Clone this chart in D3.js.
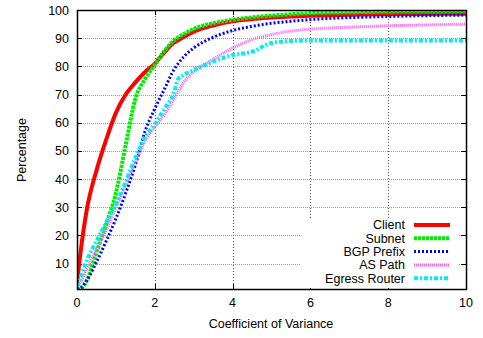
<!DOCTYPE html>
<html>
<head>
<meta charset="utf-8">
<script src="https://cdn.jsdelivr.net/npm/d3@7"></script>
<style>
  body { margin: 0; background: #fff; }
  text { font-family: "Liberation Sans", Arial, sans-serif; fill: #000; }
</style>
</head>
<body>
<svg id="chart" width="483" height="338"></svg>
<script>
// coefficient of variance (x) shared by all series
var cov = [0, 0.1, 0.25, 0.5, 0.75, 1, 1.25, 1.5, 1.75, 2, 2.25, 2.5, 2.6, 2.75, 3, 3.5, 4, 4.5, 5, 5.5, 6, 7, 8, 9, 10];

var client = [3, 15, 29, 43, 54, 63.5, 70, 74.3, 78, 81, 85, 88.5, 89.3, 90.5, 92.3, 94.5, 96, 96.8, 97.3, 97.7, 98, 98.3, 98.5, 98.6, 98.7];
var subnet = [1, 1.2, 4, 14, 24, 35, 52, 68.5, 75.5, 80.5, 85.5, 89.3, 90.3, 91.5, 93.3, 95.3, 96.5, 97.4, 98, 98.5, 98.9, 99.2, 99.4, 99.5, 99.5];
var bgpPrefix = [1, 1.5, 4, 10.5, 18, 26, 35, 45, 57, 65, 72, 79, 81, 83.5, 86.5, 90.3, 92.7, 94.2, 95.3, 96, 96.6, 97.3, 97.7, 98, 98.2];
var asPath = [1, 3.5, 8, 15, 22, 30, 38, 46, 53.5, 58.5, 63, 68.5, 71, 74.5, 78, 82.5, 86.5, 89.5, 91.3, 92.5, 93.2, 93.9, 94.4, 94.7, 95];
var egressRouter = [2, 5.5, 11, 18, 24.5, 31, 39, 47.5, 55, 59.5, 65, 71, 75.5, 77, 78.7, 81.7, 84, 85.2, 88.3, 89, 89.2, 89.2, 89.2, 89.2, 89.2];

var seriesNames = ["Client", "Subnet", "BGP Prefix", "AS Path", "Egress Router"];
var seriesValues = [client, subnet, bgpPrefix, asPath, egressRouter];

var xTicks = [0, 2, 4, 6, 8, 10];
var yTicks = [10, 20, 30, 40, 50, 60, 70, 80, 90, 100];

// line looks, gnuplot-ish
var styles = [
  {color: "#ff0000", width: 4, dash: null},
  {color: "#00ee00", width: 4, dash: "3,1"},
  {color: "#0000ff", width: 3, dash: "2,2"},
  {color: "#ff55ff", width: 3, dash: "1,1"},
  {color: "#00eeee", width: 4, dash: "4,2,2,2"}
];

var svg = d3.select("#chart");
var pl = 77, pr = 466, pt = 10, pb = 289;

var x = d3.scaleLinear().domain([0, 10]).range([pl, pr]);
var y = d3.scaleLinear().domain([1, 100]).range([pb, pt]);

// grid
svg.append("g").selectAll("line").data(yTicks.filter(function(d){ return d < 100; }))
  .join("line")
  .attr("x1", pl).attr("x2", pr)
  .attr("y1", function(d){ return Math.round(y(d)) + 0.5; })
  .attr("y2", function(d){ return Math.round(y(d)) + 0.5; })
  .attr("stroke", "#999").attr("stroke-dasharray", "1,1");

svg.append("g").selectAll("line").data(xTicks.filter(function(d){ return d > 0 && d < 10; }))
  .join("line")
  .attr("x1", function(d){ return Math.round(x(d)) + 0.5; })
  .attr("x2", function(d){ return Math.round(x(d)) + 0.5; })
  .attr("y1", pt).attr("y2", pb)
  .attr("stroke", "#555").attr("stroke-dasharray", "1,2");

// ticks, inward on all four sides
var ticks = svg.append("g").attr("stroke", "#000");
yTicks.forEach(function(t){
  var yy = Math.round(y(t)) + 0.5;
  ticks.append("line").attr("x1", pl).attr("x2", pl + 5).attr("y1", yy).attr("y2", yy);
  ticks.append("line").attr("x1", pr).attr("x2", pr - 5).attr("y1", yy).attr("y2", yy);
});
xTicks.forEach(function(t){
  var xx = Math.round(x(t)) + 0.5;
  ticks.append("line").attr("x1", xx).attr("x2", xx).attr("y1", pb).attr("y2", pb - 5);
  ticks.append("line").attr("x1", xx).attr("x2", xx).attr("y1", pt).attr("y2", pt + 5);
});

// tick labels
svg.append("g").selectAll("text").data(yTicks).join("text")
  .attr("x", 69).attr("y", function(d){ return y(d) + 4.5; })
  .attr("text-anchor", "end").attr("font-size", 12.5)
  .text(function(d){ return d; });

svg.append("g").selectAll("text").data(xTicks).join("text")
  .attr("x", function(d){ return x(d); }).attr("y", 307)
  .attr("text-anchor", "middle").attr("font-size", 12.5)
  .text(function(d){ return d; });

// axis titles
svg.append("text").attr("transform", "translate(26,150) rotate(-90)")
  .attr("text-anchor", "middle").attr("font-size", 12.5).text("Percentage");
svg.append("text").attr("x", 271).attr("y", 328)
  .attr("text-anchor", "middle").attr("font-size", 12.5).text("Coefficient of Variance");

// legend box hides the grid behind it
svg.append("rect").attr("x", 301).attr("y", 218).attr("width", 157).attr("height", 70).attr("fill", "#fff");

// curves
svg.append("clipPath").attr("id", "plotclip").append("rect")
  .attr("x", pl).attr("y", pt).attr("width", pr - pl).attr("height", pb - pt);

var line = d3.line()
  .x(function(d){ return x(d[0]); })
  .y(function(d){ return y(d[1]); })
  .curve(d3.curveMonotoneX);

var curves = svg.append("g").attr("clip-path", "url(#plotclip)");
seriesValues.forEach(function(vals, i){
  var pts = cov.map(function(c, j){ return [c, vals[j]]; });
  curves.append("path").datum(pts)
    .attr("d", line)
    .attr("fill", "none")
    .attr("stroke", styles[i].color)
    .attr("stroke-width", styles[i].width)
    .attr("stroke-dasharray", styles[i].dash);
});

// legend
var legend = svg.append("g");
seriesNames.forEach(function(name, i){
  var ly = 225 + i * 13.3;
  legend.append("text").attr("x", 405).attr("y", ly + 4.3)
    .attr("text-anchor", "end").attr("font-size", 12.5).text(name);
  legend.append("line").attr("x1", 414).attr("x2", 450).attr("y1", ly).attr("y2", ly)
    .attr("stroke", styles[i].color)
    .attr("stroke-width", styles[i].width)
    .attr("stroke-dasharray", styles[i].dash);
});

// border
svg.append("rect").attr("x", pl + 0.5).attr("y", pt + 0.5)
  .attr("width", pr - pl).attr("height", pb - pt)
  .attr("fill", "none").attr("stroke", "#000").attr("stroke-width", 1.5);
</script>
</body>
</html>
